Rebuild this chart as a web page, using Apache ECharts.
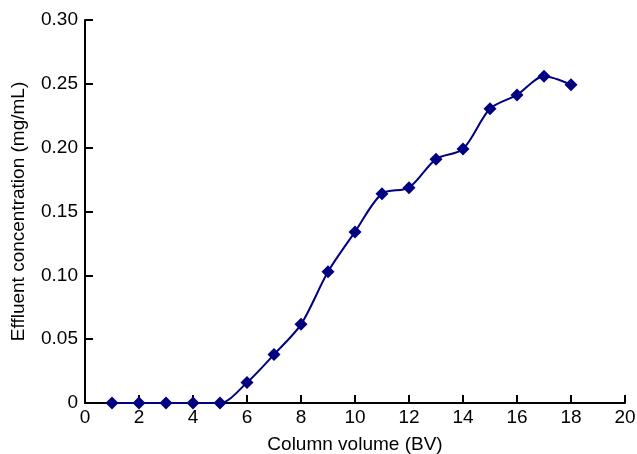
<!DOCTYPE html>
<html><head><meta charset="utf-8">
<script src="https://cdn.jsdelivr.net/npm/echarts@6/dist/echarts.min.js"></script>
<style>html,body{margin:0;padding:0;background:#fff}#c{width:637px;height:454px}</style>
</head><body><div id="c"></div>
<script>
const bv = [1,2,3,4,5,6,7,8,9,10,11,12,13,14,15,16,17,18];
const conc = [0,0,0,0,0,0.016,0.038,0.0616,0.1028,0.134,0.164,0.1687,0.191,0.199,0.2305,0.2413,0.2559,0.2493];
const chart = echarts.init(document.getElementById('c'));
const font = 'Liberation Sans, Arial, sans-serif';
chart.setOption({
  animation:false,
  grid:{left:85,right:12,top:20,bottom:51,containLabel:false,outerBoundsMode:'none'},
  xAxis:{type:'value',min:0,max:20,interval:2,
    name:'Column volume (BV)',nameLocation:'middle',nameGap:32,
    nameTextStyle:{color:'#000',fontSize:19,fontFamily:font},
    axisLine:{lineStyle:{color:'#000',width:2}},
    axisTick:{inside:true,length:8,lineStyle:{color:'#000',width:2}},
    axisLabel:{color:'#000',fontSize:19,fontFamily:font,margin:5},
    splitLine:{show:false}},
  yAxis:{type:'value',min:0,max:0.30,interval:0.05,
    name:'Effluent concentration (mg/mL)',nameLocation:'middle',nameGap:57,
    nameTextStyle:{color:'#000',fontSize:19,fontFamily:font},
    axisLine:{show:true,lineStyle:{color:'#000',width:2}},
    axisTick:{show:true,inside:true,length:8,lineStyle:{color:'#000',width:2}},
    axisLabel:{color:'#000',fontSize:19,fontFamily:font,margin:7,
      formatter:v=>v===0?'0':v.toFixed(2)},
    splitLine:{show:false}},
  series:[{type:'line',data:bv.map((x,i)=>[x,conc[i]]),smooth:0.3,
    symbol:'diamond',symbolSize:13,
    lineStyle:{color:'#000080',width:2},
    itemStyle:{color:'#000080'}}]
});
</script></body></html>
